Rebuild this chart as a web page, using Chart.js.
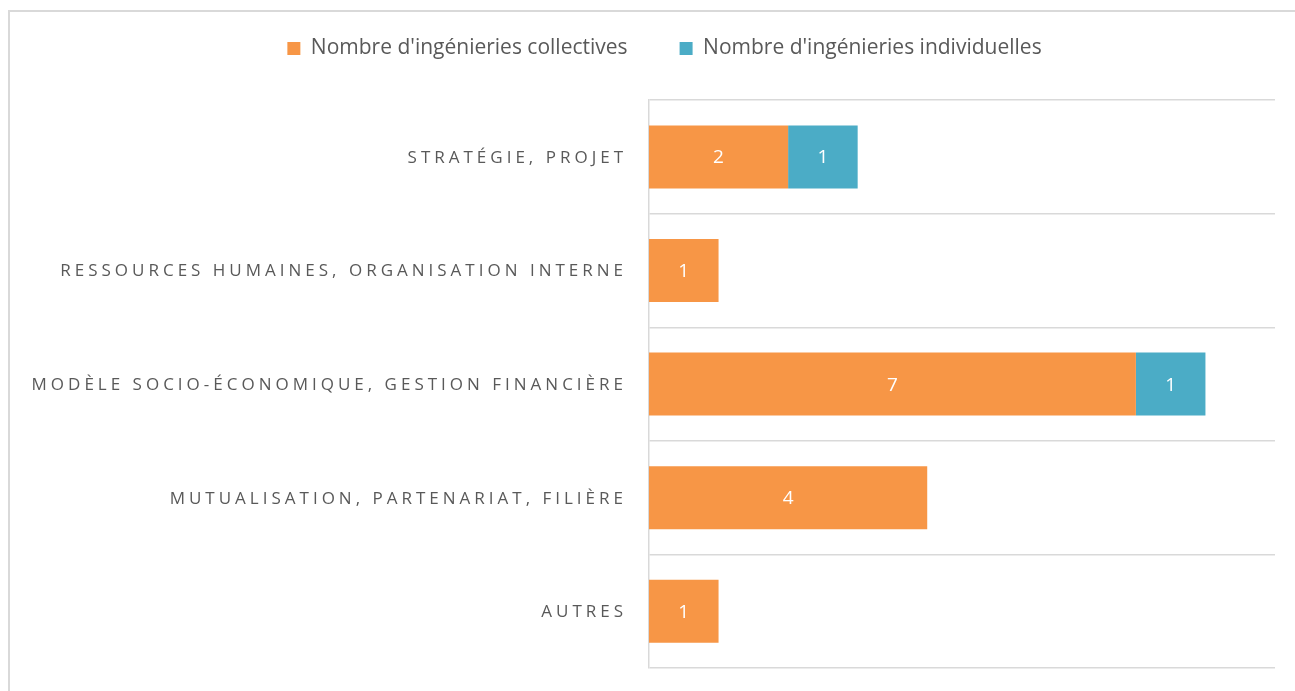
<!DOCTYPE html>
<html lang="fr">
<head>
<meta charset="utf-8">
<title>Ingénieries</title>
<script src="https://cdn.jsdelivr.net/npm/chart.js@4.4.1/dist/chart.umd.min.js"></script>
<style>
    html, body { margin: 0; padding: 0; background: #fff; overflow: hidden; }
    .cadre { position: absolute; left: 8px; top: 10px; width: 1400px; height: 800px; border: 2px solid #d9d9d9; box-sizing: border-box; }
    .zone { position: absolute; left: 0; top: -14px; width: 1295px; height: 705px; }
</style>
</head>
<body>
<div class="cadre"></div>
<div class="zone"><canvas id="chart-1"></canvas></div>
<script>
console.log('main loaded');

const categories = [
    'STRATÉGIE, PROJET',
    'RESSOURCES HUMAINES, ORGANISATION INTERNE',
    'MODÈLE SOCIO-ÉCONOMIQUE, GESTION FINANCIÈRE',
    'MUTUALISATION, PARTENARIAT, FILIÈRE',
    'AUTRES'
];
const collectives = [2, 1, 7, 4, 1];
const individuelles = [1, 0, 1, 0, 0];
const seriesNames = ["Nombre d'ingénieries collectives", "Nombre d'ingénieries individuelles"];

const textColor = '#595959';
const gridColor = '#d9d9d9';

// labels des catégories avec espacement des lettres (comme dans Excel)
const categoryLabels = {
    id: 'categoryLabels',
    afterDraw(chart) {
        const ctx = chart.ctx;
        const yScale = chart.scales.y;
        ctx.save();
        ctx.font = '17px "Open Sans"';
        ctx.letterSpacing = '4px';
        ctx.fillStyle = textColor;
        ctx.textAlign = 'right';
        ctx.textBaseline = 'middle';
        for (let i = 0; i < categories.length; i++) {
            ctx.fillText(categories[i], chart.chartArea.left - 22, yScale.getPixelForValue(i) + 1);
        }
        ctx.restore();
    }
};

// valeurs en blanc au milieu des barres
const barValues = {
    id: 'barValues',
    afterDatasetsDraw(chart) {
        const ctx = chart.ctx;
        ctx.save();
        ctx.font = '19px "Open Sans"';
        ctx.fillStyle = '#ffffff';
        ctx.textAlign = 'center';
        ctx.textBaseline = 'middle';
        chart.data.datasets.forEach((ds, d) => {
            const meta = chart.getDatasetMeta(d);
            meta.data.forEach((bar, i) => {
                if (!ds.data[i]) return;
                ctx.fillText(ds.data[i], (bar.x + bar.base) / 2, bar.y + 1);
            });
        });
        ctx.restore();
    }
};

function createChart(canvas) {
    new Chart(canvas, {
        type: 'bar',
        data: {
            labels: categories,
            datasets: [{
                label: seriesNames[0],
                data: collectives,
                backgroundColor: '#f79646'
            }, {
                label: seriesNames[1],
                data: individuelles,
                backgroundColor: '#4bacc6'
            }]
        },
        options: {
            indexAxis: 'y',
            responsive: true,
            maintainAspectRatio: false,
            animation: false,
            categoryPercentage: 1,
            barPercentage: 0.555,
            layout: {
                padding: { top: 0, right: 20, bottom: 23, left: 54 }
            },
            plugins: {
                tooltip: { enabled: false },
                legend: {
                    position: 'top',
                    labels: {
                        color: textColor,
                        font: { family: '"Open Sans"', size: 21 },
                        boxWidth: 13,
                        boxHeight: 13,
                        padding: 52
                    }
                },
                // espace vide entre la légende et le graphique
                title: {
                    display: true,
                    text: '',
                    position: 'top',
                    weight: 100,
                    font: { size: 1 },
                    padding: { top: 30, bottom: 0 }
                }
            },
            scales: {
                x: {
                    stacked: true,
                    display: false,
                    min: 0,
                    max: 9
                },
                y: {
                    stacked: true,
                    ticks: { display: false },
                    grid: { color: gridColor, lineWidth: 1.5, offset: true, drawTicks: false },
                    border: { color: gridColor, width: 1.5 },
                    afterFit(scale) {
                        scale.width = 595;
                    }
                }
            }
        },
        plugins: [categoryLabels, barValues]
    });
}

createChart(document.getElementById('chart-1'));
</script>
</body>
</html>
